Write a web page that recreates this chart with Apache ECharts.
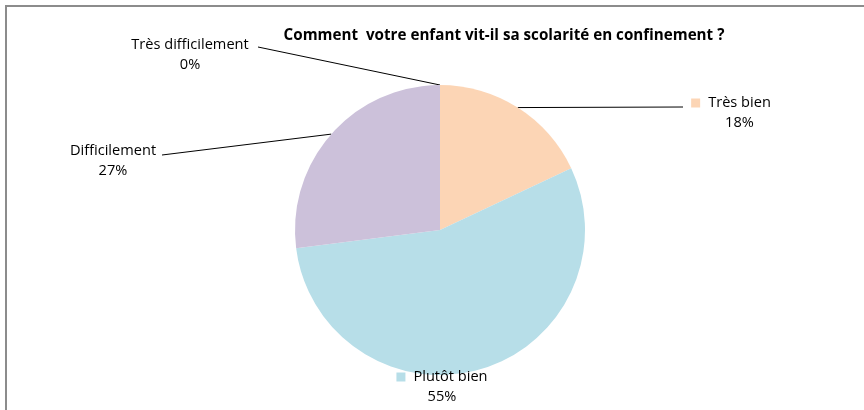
<!DOCTYPE html>
<html>
<head>
<meta charset="utf-8">
<script src="https://cdn.jsdelivr.net/npm/echarts@6/dist/echarts.min.js"></script>
<style>html,body{margin:0;padding:0;background:#fff;}#c{width:864px;height:410px;}</style>
</head>
<body>
<div id="c"></div>
<script>
const categories = ['Très bien', 'Plutôt bien', 'Difficilement', 'Très difficilement'];
const values = [18, 55, 27, 0];
const colors = ['#FCD5B5', '#B7DEE8', '#CCC1DA', '#C3D69B'];
const chartTitle = 'Comment  votre enfant vit-il sa scolarité en confinement ?';

const FONT = '"Open Sans", "Liberation Sans", sans-serif';
const labelPos = [
  { x: 731, y: 93, end: [683, 107], key: true, spacer: true },
  { x: 442, y: 367, end: null, key: true, spacer: false },
  { x: 113, y: 141, end: [162, 155], key: false, spacer: false },
  { x: 190, y: 35, end: [258, 47], key: false, spacer: false }
];

const rich = { t: { fontFamily: FONT, fontSize: 14.6, color: '#000', lineHeight: 20 },
               g: { width: 8, height: 9 }, sp: { width: 17, height: 9 } };
colors.forEach((c, i) => { rich['sq' + i] = { width: 9, height: 9, backgroundColor: c }; });

const data = categories.map((name, i) => ({
  name: name,
  value: values[i],
  itemStyle: { color: colors[i] },
  labelLine: { show: labelPos[i].end != null }
}));

const chart = echarts.init(document.getElementById('c'), null, { renderer: 'canvas' });
chart.setOption({
  animation: false,
  backgroundColor: '#fff',
  title: {
    text: chartTitle,
    left: 499, top: 23, textAlign: 'center',
    textStyle: { fontFamily: FONT, fontSize: 15.2, fontWeight: 'bold', color: '#000' }
  },
  graphic: [{
    type: 'rect', shape: { x: 6, y: 6, width: 900, height: 420 },
    style: { fill: null, stroke: '#8c8c8c', lineWidth: 2 }, silent: true
  }],
  series: [{
    type: 'pie',
    center: [440, 230],
    radius: 145,
    startAngle: 90,
    clockwise: true,
    data: data,
    itemStyle: { borderWidth: 0 },
    label: {
      show: true,
      position: 'outside',
      fontFamily: FONT, fontSize: 14.6, color: '#000', lineHeight: 20,
      align: 'center',
      rich: rich,
      formatter: function (p) {
        const lp = labelPos[p.dataIndex];
        const pct = Math.round(p.percent) + '%';
        const first = (lp.key ? '{sq' + p.dataIndex + '|}{g|}' : '') + '{t|' + p.name + '}';
        const second = (lp.spacer ? '{sp|}' : '') + '{t|' + pct + '}';
        return first + '\n' + second;
      }
    },
    labelLine: { show: true, length: 20, length2: 20, lineStyle: { color: '#000', width: 1 } },
    labelLayout: function (p) {
      const lp = labelPos[p.dataIndex];
      const res = { x: lp.x, y: lp.y, align: 'center', verticalAlign: 'top', hideOverlap: false };
      if (lp.end && p.labelLinePoints) {
        res.labelLinePoints = [p.labelLinePoints[0], lp.end];
      }
      return res;
    }
  }]
});
</script>
</body>
</html>
